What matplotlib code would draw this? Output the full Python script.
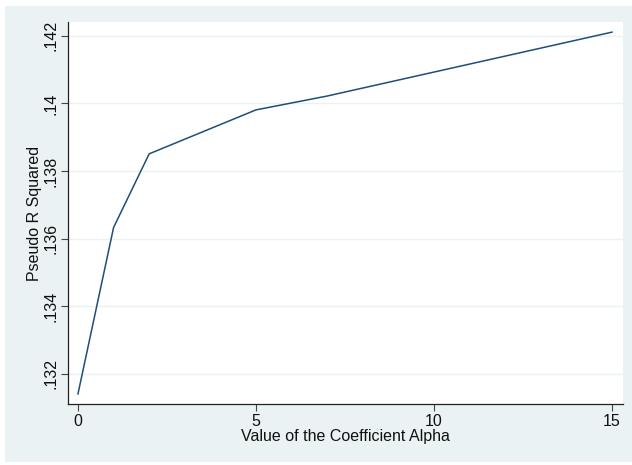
import matplotlib
matplotlib.use('Agg')
import matplotlib.pyplot as plt
from matplotlib.patches import Rectangle

# data
alpha     = [0, 1, 2, 5, 7, 15]
pseudo_r2 = [0.13141, 0.13633, 0.13851, 0.13981, 0.14022, 0.14211]

xticks      = [0, 5, 10, 15]
yticks      = [0.132, 0.134, 0.136, 0.138, 0.140, 0.142]
ytick_names = ['.132', '.134', '.136', '.138', '.14', '.142']

plt.rcParams['font.family'] = ['Liberation Sans', 'DejaVu Sans']
bg   = '#eaf2f3'
navy = '#1f4e79'

fig = plt.figure(figsize=(6.32, 4.65), dpi=100, facecolor='white')
fig.patches.append(Rectangle((5/632, 3/465), 627/632, 456/465, transform=fig.transFigure,
                             facecolor=bg, edgecolor='none', zorder=-10))

ax = fig.add_axes([68/632, 61/465, 555/632, 382/465])
ax.set_facecolor('white')
ax.plot(alpha, pseudo_r2, color=navy, lw=1.1)

ax.set_xlim(-0.28, 15.31)
ax.set_ylim(0.13111, 0.14241)
ax.set_xticks(xticks)
ax.set_yticks(yticks)
ax.set_yticklabels(ytick_names, rotation=90, va='center')
ax.grid(axis='y', color=bg, lw=1)
ax.set_axisbelow(True)

for s in ['top', 'right']:
    ax.spines[s].set_visible(False)
for s in ['left', 'bottom']:
    ax.spines[s].set_color('#222222')
    ax.spines[s].set_linewidth(0.9)
ax.tick_params(direction='out', length=5, width=0.8, color='#444444',
               labelsize=11.5, labelcolor='#111111', pad=2)

ax.set_xlabel('Value of the Coefficient Alpha', fontsize=11.5, color='#111111', labelpad=0)
ax.set_ylabel('Pseudo R Squared', fontsize=11.5, color='#111111', labelpad=1)

fig.savefig('out.png', dpi=100, facecolor=fig.get_facecolor())
